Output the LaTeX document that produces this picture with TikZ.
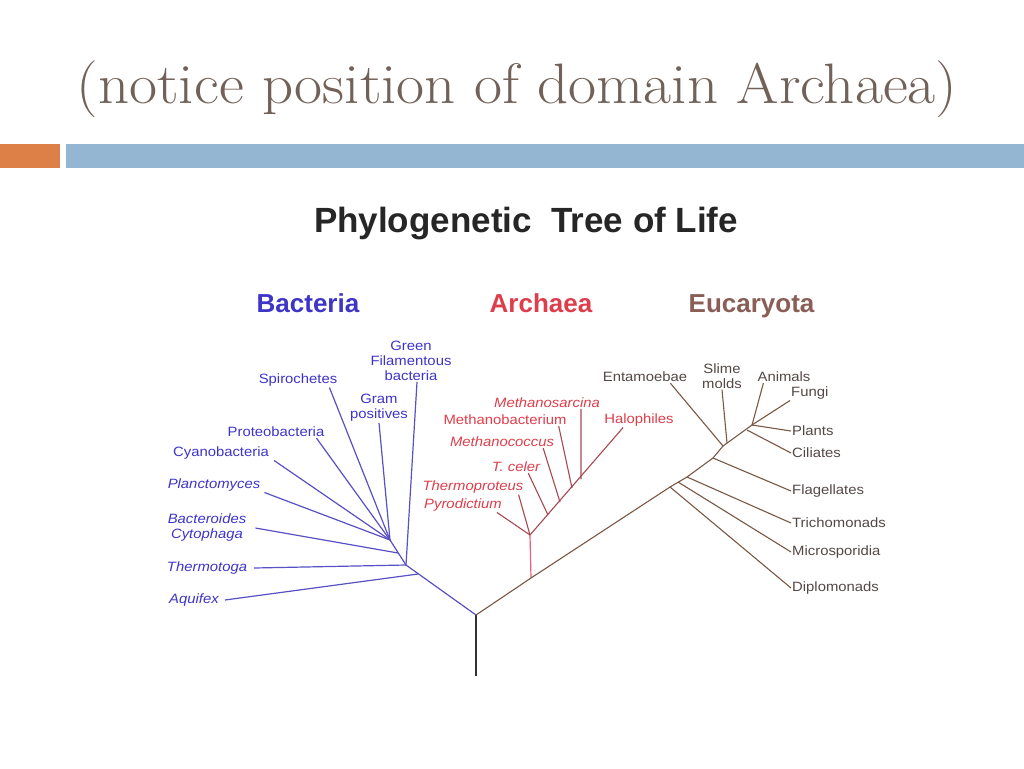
\documentclass[tikz,border=0pt]{standalone}
\usepackage{fontspec}
\usepackage{xcolor}
\usepackage{tikz}
\usetikzlibrary{positioning}
\newfontfamily\slidefont[FakeStretch=1.07]{Latin Modern Roman}
\newfontfamily\treefont{Liberation Sans}
\newfontfamily\leaffont[FakeStretch=1.1]{Liberation Sans}
\definecolor{titlebrown}{RGB}{114,97,88}
\definecolor{barorange}{RGB}{221,128,71}
\definecolor{barblue}{RGB}{148,182,210}
\definecolor{bactblue}{RGB}{62,52,200}
\definecolor{bactline}{RGB}{88,80,196}
\definecolor{archred}{RGB}{222,62,76}
\definecolor{archline}{RGB}{168,72,82}
\definecolor{archpink}{RGB}{234,96,122}
\definecolor{eucatext}{RGB}{84,72,70}
\definecolor{eucahead}{RGB}{138,94,86}
\definecolor{eucaline}{RGB}{122,88,68}
\definecolor{trunkgray}{RGB}{50,50,50}
\tikzset{
  mytitle/.style={
    anchor=base,
    inner sep=0pt,
    text=titlebrown,
    font=\slidefont\fontsize{57}{68}\selectfont
  },
  mytreetitle/.style={
    anchor=base,
    inner sep=0pt,
    text=black!85,
    font=\treefont\bfseries\fontsize{35}{40}\selectfont
  },
  myhead/.style={
    inner sep=1pt,
    font=\treefont\bfseries\fontsize{26}{30}\selectfont
  },
  myleaf/.style={
    inner sep=1pt,
    align=center,
    font=\leaffont\fontsize{13.5}{15}\selectfont
  },
  mytrunk/.style={
    draw=trunkgray,
    line width=1.5pt,
  },
  mybactline/.style={
    draw=bactline,
    line width=1.2pt,
  },
  myarchline/.style={
    draw=archline,
    line width=1.1pt,
  },
  myeucaline/.style={
    draw=eucaline,
    line width=1.1pt,
  },
}
\begin{document}
\begin{tikzpicture}[x=1pt, y=-1pt, line join=round]
    \useasboundingbox[fill=white] (0,0) rectangle (1024,768);

    \node[mytitle] (slidetitle) at (517,103) {(notice position of domain Archaea)};
    \fill[barorange] (0,144) rectangle (60,168);
    \fill[barblue]   (66,144) rectangle (1024,168);

    \node[mytreetitle] (treetitle) at (526,232) {Phylogenetic\ \ Tree of Life};
    \node[myhead, text=bactblue, anchor=base] (bacteria)  at (308,312)                    {Bacteria};
    \node[myhead, text=archred]               (archaea)   [base right=128pt of bacteria] {Archaea};
    \node[myhead, text=eucahead]              (eucaryota) [base right=94pt of archaea]   {Eucaryota};

    % branch points
    \coordinate (base)  at (476,676);
    \coordinate (root)  at (476,615);
    \coordinate (bact0) at (406,565);
    \coordinate (bact1) at (390,540);
    \coordinate (bact2) at (398,553);
    \coordinate (bact3) at (418,574);
    \coordinate (arch0) at (531,578);
    \coordinate (arch1) at (530,535);
    \coordinate (arch2) at (548,515);
    \coordinate (arch3) at (560,502);
    \coordinate (arch4) at (572,488);
    \coordinate (arch5) at (581,479);
    \coordinate (euk1)  at (670,487);
    \coordinate (euk2)  at (678,482);
    \coordinate (euk3)  at (687,477);
    \coordinate (euk4)  at (713,458);
    \coordinate (euk5)  at (723,446);
    \coordinate (euk6)  at (727,443);
    \coordinate (euk7)  at (747,430);
    \coordinate (euk8)  at (752,425);

    % Bacteria
    \node[myleaf, text=bactblue] (spiro)   at (298,380) {Spirochetes};
    \node[myleaf, text=bactblue] (gram)    at (379,408) {Gram\\positives};
    \node[myleaf, text=bactblue] (green)   at (411,361) {Green\\Filamentous\\bacteria};
    \node[myleaf, text=bactblue] (proteo)  at (276,432) {Proteobacteria};
    \node[myleaf, text=bactblue] (cyano)   at (221,453) {Cyanobacteria};
    \node[myleaf, text=bactblue] (plancto) at (214,485) {\itshape Planctomyces};
    \node[myleaf, text=bactblue] (bactero) at (207,528) {\itshape Bacteroides\\\itshape Cytophaga};
    \node[myleaf, text=bactblue] (thermo)  at (207,568) {\itshape Thermotoga};
    \node[myleaf, text=bactblue] (aquif)   at (194,600) {\itshape Aquifex};

    \draw[mytrunk] (base) -- (root);
    \draw[mybactline] (root) -- (bact0) -- (bact1);
    \draw[mybactline] ([xshift=-9pt]spiro.south east)  -- (bact1);
    \draw[mybactline] (gram.south)                      -- (bact1);
    \draw[mybactline] ([xshift=6pt]green.south)         -- (bact0);
    \draw[mybactline] ([xshift=-9pt]proteo.south east) -- (bact1);
    \draw[mybactline] ([xshift=4pt]cyano.south east)    -- (bact1);
    \draw[mybactline] ([xshift=3pt]plancto.south east)  -- (bact1);
    \draw[mybactline] ([xshift=8pt]bactero.east)        -- (bact2);
    \draw[mybactline] ([xshift=6pt]thermo.east)         -- (bact0);
    \draw[mybactline] ([xshift=5pt]aquif.east)          -- (bact3);

    % Archaea
    \node[myleaf, text=archred] (msarc) at (547,403) {\itshape Methanosarcina};
    \node[myleaf, text=archred] (mbact) at (505,420) {Methanobacterium};
    \node[myleaf, text=archred] (mcocc) at (502,442) {\itshape Methanococcus};
    \node[myleaf, text=archred] (tceler) at (516,467) {\itshape T. celer};
    \node[myleaf, text=archred] (tprot) at (473,487) {\itshape Thermoproteus};
    \node[myleaf, text=archred] (pyro)  at (463,505) {\itshape Pyrodictium};
    \node[myleaf, text=archred] (halo)  at (639,420) {Halophiles};

    \draw[myeucaline] (root) -- (arch0);
    \draw[archpink, line width=1.2pt] (arch0) -- (arch1);
    \draw[myarchline] (arch1) -- ([xshift=20pt]halo.south west);
    \draw[myarchline] ([xshift=-20pt]msarc.south east) -- (arch5);
    \draw[myarchline] ([xshift=-9pt]mbact.south east)  -- (arch4);
    \draw[myarchline] ([xshift=-12pt]mcocc.south east) -- (arch3);
    \draw[myarchline] ([xshift=-13pt]tceler.south east) -- (arch2);
    \draw[myarchline] ([xshift=-6pt]tprot.south east)  -- (arch1);
    \draw[myarchline] ([xshift=-6pt]pyro.south east)   -- (arch1);

    % Eucaryota
    \node[myleaf, text=eucatext] (entam)  at (645,377) {Entamoebae};
    \node[myleaf, text=eucatext] (slime)  at (722,376) {Slime\\molds};
    \node[myleaf, text=eucatext] (animal) at (784,377) {Animals};
    \node[myleaf, text=eucatext, anchor=west] (fungi)  at (790,393) {Fungi};
    \node[myleaf, text=eucatext, anchor=west] (plants) at (791,431) {Plants};
    \node[myleaf, text=eucatext, anchor=west] (cilia)  at (791,453) {Ciliates};
    \node[myleaf, text=eucatext, anchor=west] (flagel) at (791,491) {Flagellates};
    \node[myleaf, text=eucatext, anchor=west] (trich)  at (791,523) {Trichomonads};
    \node[myleaf, text=eucatext, anchor=west] (micro)  at (791,552) {Microsporidia};
    \node[myleaf, text=eucatext, anchor=west] (diplo)  at (791,588) {Diplomonads};

    \draw[myeucaline] (arch0) -- (euk1) -- (euk3) -- (euk4) -- (euk5) -- (euk8);
    \draw[myeucaline] ([xshift=-18pt]entam.south east) -- (euk5);
    \draw[myeucaline] (slime.south)                     -- (euk6);
    \draw[myeucaline] ([xshift=7pt]animal.south west)   -- (euk8);
    \draw[myeucaline] (fungi.south west)                -- (euk8);
    \draw[myeucaline] (plants.west)                     -- (euk8);
    \draw[myeucaline] (cilia.west)                      -- (euk7);
    \draw[myeucaline] (flagel.west)                     -- (euk4);
    \draw[myeucaline] (trich.west)                      -- (euk3);
    \draw[myeucaline] (micro.west)                      -- (euk2);
    \draw[myeucaline] (diplo.west)                      -- (euk1);
\end{tikzpicture}
\end{document}
